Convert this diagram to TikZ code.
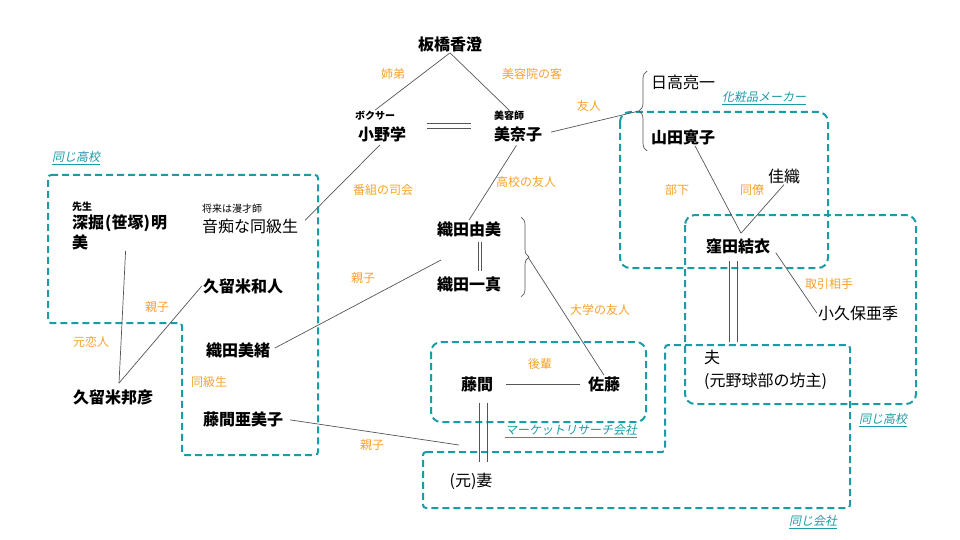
\documentclass[tikz,border=0pt]{standalone}
\usepackage{fontspec}
\setmainfont{Noto Sans CJK JP}
\newfontfamily\slantjp{Noto Sans CJK JP}[FakeSlant=0.2]
\usetikzlibrary{positioning,decorations.pathreplacing}
\definecolor{relorange}{HTML}{F8A12A}
\definecolor{grpteal}{HTML}{1A9BA6}
\definecolor{lngray}{HTML}{555555}

\begin{document}
\begin{tikzpicture}
  [x=1pt,y=-1pt,
   nm/.style={font=\fontsize{16}{20}\selectfont\bfseries,inner sep=1pt},
   pl/.style={font=\fontsize{16}{23}\selectfont,inner sep=1pt},
   sm/.style={font=\fontsize{10}{12}\selectfont,inner sep=1pt},
   smb/.style={font=\fontsize{10}{12}\selectfont\bfseries,inner sep=1pt},
   rel/.style={font=\fontsize{12}{14}\selectfont,text=relorange,inner sep=1pt},
   grp/.style={font=\fontsize{12}{14}\slantjp,text=grpteal,inner sep=1pt},
   ln/.style={draw=lngray,line width=0.7pt},
   box/.style={draw=grpteal,line width=2pt,dash pattern=on 7pt off 4pt},
   brc/.style={ln,decorate,decoration={brace,amplitude=8pt}}]
  \useasboundingbox (0,0) rectangle (960,540);

  % groups
  \draw[box,rounded corners=3pt] (48,175) -- (318,175) -- (318,455)
    -- (182,455) -- (182,323) -- (48,323) -- cycle;
  \draw[box,rounded corners=10pt] (620,112) rectangle (828,268);
  \draw[box,rounded corners=10pt] (685,215) rectangle (916,404);
  \draw[box,rounded corners=10pt] (431,342) rectangle (646,422);
  \draw[box,rounded corners=3pt] (423,452) -- (665,452) -- (665,345)
    -- (850,345) -- (850,508) -- (423,508) -- cycle;
  \node[grp] (gkoukouA) at (76,158) {\underline{同じ高校}};
  \node[grp] (gmaker) at (764,98) {\underline{化粧品メーカー}};
  \node[grp] (gmarket) at (571,431) {\underline{マーケットリサーチ会社}};
  \node[grp] (gkoukouB) at (883,420) {\underline{同じ高校}};
  \node[grp] (gkaisha) at (813,522) {\underline{同じ会社}};

  % people
  \node[nm] (itabashi) at (450,44) {板橋香澄};
  \node[smb] (boxer) at (375,116) {ボクサー};
  \node[nm] (ono) at (382,134) {小野学};
  \node[smb] (biyoushi) at (509,116) {美容師};
  \node[nm] (minako) at (518,134) {美奈子};
  \node[pl] (hidaka) at (683,82) {日高亮一};
  \node[nm] (yamada) at (683,137) {山田寛子};
  \node[pl] (kaori) at (784,176) {佳織};
  \node[nm] (kubota) at (738,246) {窪田結衣};
  \node[pl] (kokubo) at (858,313) {小久保亜季};
  \node[pl,align=left,anchor=west] (otto) at (703,370) {夫\\(元野球部の坊主)};
  \node[nm] (odayumi) at (469,229) {織田由美};
  \node[nm] (odakazuma) at (469,284) {織田一真};
  \node[nm] (touma) at (477,384) {藤間};
  \node[nm] (satou) at (604,384) {佐藤};
  \node[pl] (tsuma) at (471,481) {(元)妻};
  \node[sm,anchor=west] (mangen) at (201,209) {将来は漫才師};
  \node[pl,anchor=west] (onchi) at (201,226) {音痴な同級生};
  \node[smb,anchor=west] (sensei) at (71,207) {先生};
  \node[nm,align=left,anchor=north west] (fukahori) at (71,213)
    {深掘\kern1pt(笹塚)\kern1pt明\\美};
  \node[nm] (kazuto) at (243,286) {久留米和人};
  \node[nm] (mio) at (238,350) {織田美緒};
  \node[nm] (amiko) at (243,419) {藤間亜美子};
  \node[nm] (kunihiko) at (113,397) {久留米邦彦};

  % relations
  \node[rel] (rkyoudai) at (393,74) {姉弟};
  \node[rel] (rkyaku) at (532,74) {美容院の客};
  \node[rel] (ryuujin) at (589,106) {友人};
  \node[rel] (rshikai) at (383,190) {番組の司会};
  \node[rel] (rkoukou) at (526,182) {高校の友人};
  \node[rel] (rbuka) at (677,190) {部下};
  \node[rel] (rdouryou) at (752,190) {同僚};
  \node[rel] (rtorihiki) at (829,284) {取引相手};
  \node[rel] (royakoA) at (363,278) {親子};
  \node[rel] (rdaigaku) at (600,310) {大学の友人};
  \node[rel] (rkouhai) at (540,364) {後輩};
  \node[rel] (royakoB) at (157,307) {親子};
  \node[rel] (rkoibito) at (91,342) {元恋人};
  \node[rel] (rdoukyuu) at (209,382) {同級生};
  \node[rel] (royakoC) at (372,445) {親子};

  \coordinate (hbrace) at (639,111);
  \coordinate (obrace) at (528,257);
  \coordinate (odapair) at (441,260);
  \coordinate (toumapair) at (459,445);
  \draw[brc] (647,151) -- (647,71);
  \draw[brc] (521,217) -- (521,297);

  \draw[ln] (itabashi.south) -- (boxer.north);
  \draw[ln] (itabashi.south) -- (biyoushi.north);
  \foreach \s in {-2.5,2.5} {
    \draw[ln,shorten <=20pt,shorten >=22pt]
      ([yshift={(8+\s)*1pt}]ono.east) -- ([yshift={(8+\s)*1pt}]minako.west);
  }
  \foreach \s in {-1.7,1.7} {
    \draw[ln,shorten <=4pt,shorten >=4pt]
      ([xshift={(11+\s)*1pt}]odayumi.south) -- ([xshift={(11+\s)*1pt}]odakazuma.north);
  }
  \foreach \s in {-4,4} {
    \draw[ln,shorten <=10pt,shorten >=10pt]
      ([xshift={(6+\s)*1pt}]touma.south) -- ([xshift={(6+\s)*1pt}]touma.south |- tsuma.north);
    \draw[ln,shorten <=6pt,shorten >=7pt]
      ([xshift={(-5+\s)*1pt}]kubota.south) -- ([xshift={(-5+\s)*1pt}]kubota.south |- otto.north);
  }
  \draw[ln,shorten <=8pt] (minako.east) -- (hbrace);
  \draw[ln,shorten <=3pt,shorten >=8pt] (ono.south) -- (onchi.east);
  \draw[ln,shorten <=3pt] (minako.south) -- (odayumi.north);
  \draw[ln,shorten <=4pt] (mio.east) -- (odapair);
  \draw[ln] (obrace) -- (satou.north);
  \draw[ln,shorten <=12pt,shorten >=7pt] (touma.east) -- (satou.west);
  \draw[ln,shorten <=6pt] (amiko.east) -- (toumapair);
  \draw[ln] ([xshift=6pt]fukahori.south) -- ([xshift=6pt,yshift=5pt]kunihiko.north);
  \draw[ln] (kazuto.west) -- ([xshift=6pt,yshift=5pt]kunihiko.north);
  \draw[ln] ([xshift=12pt]yamada.south) -- ([xshift=3pt,yshift=4pt]kubota.north);
  \draw[ln] (kaori.south) -- ([xshift=3pt,yshift=4pt]kubota.north);
  \draw[ln,shorten <=8pt] (kubota.east) -- (kokubo.west);
\end{tikzpicture}
\end{document}
